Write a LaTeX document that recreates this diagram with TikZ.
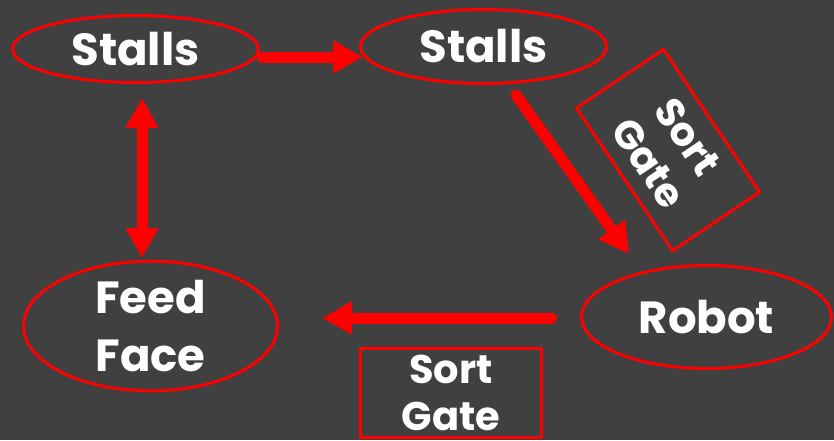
\documentclass[tikz,border=0pt]{standalone}
\usepackage{fontspec}
\setmainfont{Poppins}
\usetikzlibrary{shapes.geometric,arrows.meta}
\definecolor{slate}{HTML}{404040}

\begin{document}
\begin{tikzpicture}[x=1pt,y=-1pt]
\tikzstyle{every node}=[draw=red, line width=3pt, text=white, inner sep=0pt, align=center, font=\bfseries\fontsize{45}{58}\selectfont]
\tikzstyle{place}=[ellipse]
\tikzstyle{gate}=[rectangle, font=\bfseries\fontsize{40}{47}\selectfont]
\tikzstyle{flow}=[red, line width=11pt, -{Triangle[length=30pt,width=31pt]}]
\fill[slate] (0,0) rectangle (834,440);
\useasboundingbox (0,0) rectangle (834,440);
\draw node[place, minimum width=246pt, minimum height=67pt] (s1) at (135.5,49) {Stalls};
\draw node[place, minimum width=246pt, minimum height=74pt] (s2) at (483.5,46.5) {Stalls};
\draw node[place, minimum width=254pt, minimum height=105pt] (ff) at (150.5,326) {Feed\\Face};
\draw node[place, minimum width=250pt, minimum height=103pt] (rb) at (706.5,317) {Robot};
\draw node[gate, minimum width=181pt, minimum height=89pt] (g1) at (451,393) {Sort\\Gate};
\draw node[gate, minimum width=172pt, minimum height=105pt, rotate=-56] (g2) at (668,150) {Sort\\Gate};
\coordinate (a1) at (262,57);
\coordinate (a2) at (363,57);
\coordinate (b1) at (142,98);
\coordinate (b2) at (142,258);
\coordinate (c1) at (516,95);
\coordinate (c2) at (629,254);
\coordinate (d1) at (551.5,318);
\coordinate (d2) at (322,318);
\draw[flow, line cap=round] (a1) to (a2);
\draw[flow, {Triangle[length=30pt,width=31pt]}-{Triangle[length=30pt,width=31pt]}] (b1) to (b2);
\draw[flow, line cap=round] (c1) to (c2);
\draw[flow, line cap=round] (d1) to (d2);
\end{tikzpicture}
\end{document}
